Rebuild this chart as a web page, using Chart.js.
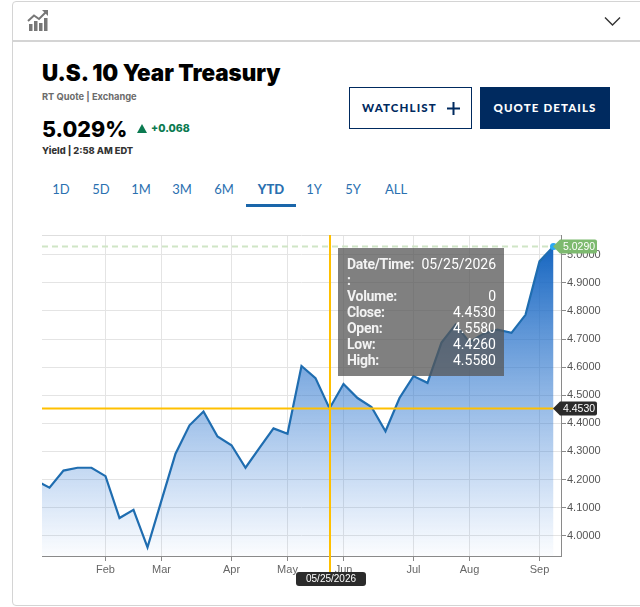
<!DOCTYPE html>
<html>
<head>
<meta charset="utf-8">
<script src="https://cdn.jsdelivr.net/npm/chart.js@4"></script>
<style>
  html, body { margin: 0; padding: 0; background: #fff; }
  body { width: 640px; height: 607px; position: relative; overflow: hidden; font-family: Lato, sans-serif; }
  #card { position: absolute; left: 12px; top: 1px; width: 640px; height: 603px; border: 1px solid #d4d4d4; border-radius: 4px; box-sizing: content-box; }
  #rule { position: absolute; left: 12px; top: 40px; width: 628px; height: 2px; background: #d4d4d4; }
  #chart { position: absolute; left: 0; top: 0; }
  .abs { position: absolute; white-space: nowrap; }
  #title { left: 42px; top: 60px; font: 900 22.4px/26px Inter, sans-serif; color: #000; }
  #sub { left: 42px; top: 91px; font: 700 9.3px/12px Inter, sans-serif; color: #6b6b6b; }
  #price { left: 42px; top: 116px; font: 800 21.5px/26px Inter, sans-serif; color: #000; }
  #chg { left: 151px; top: 122px; font: 800 10.5px/14px Inter, sans-serif; color: #0b7a50; }
  #tri { left: 137px; top: 124px; }
  #yield { left: 42px; top: 145px; font: 800 9.3px/12px Inter, sans-serif; color: #333; }
  .btn { top: 87px; height: 42px; line-height: 42px; box-sizing: border-box; font-size: 11.5px; font-weight: 900; letter-spacing: 1.1px; text-align: center; }
  #watch { left: 349px; width: 123px; border: 1px solid #002a5f; color: #002a5f; line-height: 40px; text-align: left; padding-left: 12px; }
  #quote { left: 480px; width: 130px; background: #002a5f; color: #fff; }
  .tab { top: 181px; font-size: 13px; line-height: 16px; color: #2a70b0; transform: translateX(-50%); }
  #bar { left: 246px; top: 204px; width: 50px; height: 3px; background: #1a66aa; }
  #tip { left: 338px; top: 248px; width: 166px; height: 128px; background: rgba(85,85,85,.75); color: #fff; font: 14px/16px Roboto, sans-serif; box-sizing: border-box; padding: 8px 8px 0 9px; }
  #tip div { display: flex; justify-content: space-between; height: 16px; }
  #tip b { font-weight: 700; letter-spacing: -0.3px; color: #f2f2f2; }
</style>
</head>
<body>
<div id="card"></div>
<div id="rule"></div>
<svg class="abs" style="left:27px;top:9px" width="22" height="23" viewBox="0 0 22 23">
  <g fill="#777"><rect x="2" y="15" width="3.5" height="7"/><rect x="7" y="12" width="3.5" height="10"/><rect x="12" y="14" width="3.5" height="8"/><rect x="17" y="9" width="3.5" height="13"/></g>
  <path d="M1 12 L7 6.5 L12 10 L19 3" fill="none" stroke="#777" stroke-width="2"/><path d="M15 1 L21 1 L21 7 Z" fill="#777"/>
</svg>
<svg class="abs" style="left:604px;top:16px" width="17" height="11" viewBox="0 0 17 11"><path d="M1 1.5 L8.5 9 L16 1.5" fill="none" stroke="#333" stroke-width="1.4"/></svg>
<div class="abs" id="title">U.S. 10 Year Treasury</div>
<div class="abs" id="sub">RT Quote | Exchange</div>
<div class="abs" id="price">5.029%</div>
<svg class="abs" id="tri" width="10" height="9" viewBox="0 0 10 9"><path d="M5 0 L10 9 L0 9 Z" fill="#0b7a50"/></svg>
<div class="abs" id="chg">+0.068</div>
<div class="abs" id="yield">Yield | 2:58 AM EDT</div>
<div class="abs btn" id="watch">WATCHLIST<svg style="position:absolute;left:97px;top:14px" width="13" height="13" viewBox="0 0 13 13"><path d="M6.5 0V13M0 6.5H13" stroke="#002a5f" stroke-width="2"/></svg></div>
<div class="abs btn" id="quote">QUOTE DETAILS</div>
<div id="tabs"></div>
<div class="abs" id="bar"></div>
<canvas id="chart" width="640" height="607"></canvas>
<div class="abs" id="tip"></div>
<script>
// weekly closes, first one sits just left of the plot and gets clipped
const weeks = ['12/29','01/05','01/12','01/19','01/26','02/02','02/09','02/16','02/23','03/02','03/09','03/16','03/23','03/30','04/06','04/13','04/20','04/27','05/04','05/11','05/18','05/25','06/01','06/08','06/15','06/22','06/29','07/06','07/13','07/20','07/27','08/03','08/10','08/17','08/24','08/31','09/07','09/14'];
const closes = [4.198,4.171,4.232,4.242,4.242,4.212,4.063,4.092,3.959,4.126,4.292,4.393,4.442,4.353,4.322,4.242,4.313,4.382,4.363,4.604,4.561,4.453,4.540,4.490,4.458,4.372,4.490,4.568,4.544,4.687,4.751,4.689,4.719,4.733,4.722,4.786,4.976,5.029];
const monthLabels = ['Feb','Mar','Apr','May','Jun','Jul','Aug','Sep'];
const monthWeeks = ['02/02','03/02','04/06','05/04','06/01','07/06','08/03','09/07'];
const yTicks = [4.0,4.1,4.2,4.3,4.4,4.5,4.6,4.7,4.8,4.9,5.0];
const rangeTabs = ['1D','5D','1M','3M','6M','YTD','1Y','5Y','ALL'];
const tabCenters = [61,101,141,182,224,271,314,353,396];
const hoverWeek = '05/25';
const hoverDate = '05/25/2026';
const lastClose = 5.029;
const tipRows = [['Date/Time:','05/25/2026'],[':',''],['Volume:','0'],['Close:','4.4530'],['Open:','4.5580'],['Low:','4.4260'],['High:','4.5580']];

document.getElementById('tabs').innerHTML = rangeTabs.map((t, i) =>
  `<div class="abs tab" style="left:${tabCenters[i]}px;${t == 'YTD' ? 'font-weight:900;' : ''}">${t}</div>`).join('');
document.getElementById('tip').innerHTML = tipRows.map(r => `<div><b>${r[0]}</b><span>${r[1]}</span></div>`).join('');

const pts = closes.map((v, i) => ({ x: i - 1, y: v }));
const hoverX = weeks.indexOf(hoverWeek) - 1;

function tag(ctx, x1, x2, y, color, text) {
  // label with a pointed left end
  ctx.fillStyle = color;
  ctx.beginPath();
  ctx.moveTo(x1, y);
  ctx.lineTo(x1 + 7, y - 7);
  ctx.lineTo(x2 - 2, y - 7);
  ctx.quadraticCurveTo(x2, y - 7, x2, y - 5);
  ctx.lineTo(x2, y + 5);
  ctx.quadraticCurveTo(x2, y + 7, x2 - 2, y + 7);
  ctx.lineTo(x1 + 7, y + 7);
  ctx.closePath();
  ctx.fill();
  ctx.fillStyle = '#fff';
  ctx.textAlign = 'left';
  ctx.textBaseline = 'middle';
  ctx.font = '10.5px "Liberation Sans"';
  ctx.fillText(text, x1 + 10, y + 0.5);
}

const overlay = {
  id: 'overlay',
  beforeDatasetsDraw(chart) {
    const { ctx, chartArea: a, scales: { y } } = chart;
    ctx.save();
    // top edge of the plot
    ctx.strokeStyle = '#dedede';
    ctx.lineWidth = 1;
    ctx.beginPath();
    ctx.moveTo(a.left, a.top + 0.5);
    ctx.lineTo(a.right, a.top + 0.5);
    ctx.stroke();
    ctx.strokeStyle = '#d0e5c6';
    ctx.lineWidth = 2;
    ctx.setLineDash([6, 4]);
    ctx.beginPath();
    ctx.moveTo(a.left, y.getPixelForValue(lastClose));
    ctx.lineTo(chart.scales.x.getPixelForValue(pts[pts.length - 1].x), y.getPixelForValue(lastClose));
    ctx.stroke();
    ctx.restore();
  },
  afterDraw(chart) {
    const { ctx, chartArea: a, scales: { x, y } } = chart;
    const px = x.getPixelForValue(hoverX) + 0.5;
    const hoverVal = closes[hoverX + 1];
    const py = y.getPixelForValue(hoverVal);
    const endX = x.getPixelForValue(pts[pts.length - 1].x);
    ctx.save();
    ctx.strokeStyle = '#ffc000';
    ctx.lineWidth = 2;
    ctx.beginPath();
    ctx.moveTo(a.left, py);
    ctx.lineTo(endX, py);
    ctx.moveTo(px, a.top);
    ctx.lineTo(px, a.bottom + 17);
    ctx.stroke();
    tag(ctx, 553, 597, y.getPixelForValue(lastClose), '#7dba6f', lastClose.toFixed(4));
    tag(ctx, 553, 597, py, '#2b2b2b', hoverVal.toFixed(4));
    ctx.fillStyle = '#2b2b2b';
    ctx.beginPath();
    ctx.roundRect(296, 572, 70, 14, 3);
    ctx.fill();
    ctx.fillStyle = '#fff';
    ctx.textAlign = 'center';
    ctx.textBaseline = 'middle';
    ctx.font = '10px "Liberation Sans"';
    ctx.fillText(hoverDate, 331, 579.5);
    ctx.restore();
  }
};

new Chart(document.getElementById('chart'), {
  type: 'line',
  data: {
    datasets: [{
      data: pts,
      borderColor: '#1f6db0',
      borderWidth: 2.2,
      tension: 0,
      fill: 'start',
      backgroundColor(c) {
        const a = c.chart.chartArea;
        if (!a) return 'transparent';
        const g = c.chart.ctx.createLinearGradient(0, a.top + 10, 0, a.bottom);
        g.addColorStop(0, 'rgba(21,101,192,1)');
        g.addColorStop(1, 'rgba(66,133,220,0.02)');
        return g;
      },
      pointRadius: c => c.dataIndex == closes.length - 1 ? 3.5 : 0,
      pointBackgroundColor: '#2aa8f5',
      pointBorderWidth: 0
    }]
  },
  options: {
    responsive: false,
    animation: false,
    devicePixelRatio: 1,
    events: [],
    layout: { padding: { left: 42, top: 235 } },
    plugins: { legend: { display: false }, tooltip: { enabled: false } },
    scales: {
      x: {
        type: 'linear',
        min: -0.536,
        max: 36.536,
        afterBuildTicks: s => { s.ticks = monthWeeks.map(w => ({ value: weeks.indexOf(w) - 1 })); },
        afterFit: s => { s.height = 51; },
        grid: { color: '#e4e4e4', lineWidth: 1, tickColor: '#8a8a8a', tickLength: 5 },
        border: { color: '#8a8a8a', width: 1 },
        ticks: {
          autoSkip: false, maxRotation: 0, padding: 2, color: '#666',
          font: { family: 'Liberation Sans', size: 11 },
          callback: v => monthLabels[monthWeeks.findIndex(w => weeks.indexOf(w) - 1 == v)]
        }
      },
      y: {
        position: 'right',
        min: 3.928,
        max: 5.07,
        afterBuildTicks: s => { s.ticks = yTicks.map(v => ({ value: v })); },
        afterFit: s => { s.width = 79; },
        grid: { color: '#e4e4e4', lineWidth: 1, tickColor: '#8a8a8a', tickLength: 5 },
        border: { color: '#8a8a8a', width: 1 },
        ticks: {
          padding: 1, color: '#555',
          font: { family: 'Liberation Sans', size: 11 },
          callback: v => v.toFixed(4)
        }
      }
    }
  },
  plugins: [overlay]
});
</script>
</body>
</html>
